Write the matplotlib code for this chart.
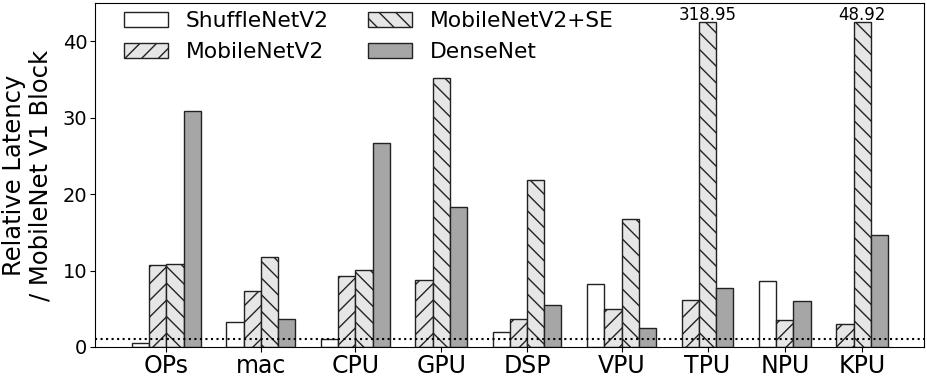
import numpy as np
import matplotlib
matplotlib.use('Agg')
import matplotlib.pyplot as plt

categories = ['OPs', 'mac', 'CPU', 'GPU', 'DSP', 'VPU', 'TPU', 'NPU', 'KPU']
series_names = ['ShuffleNetV2', 'MobileNetV2', 'MobileNetV2+SE', 'DenseNet']
# None = no bar for that unit
shufflenet = [0.5, 3.3, 1.1, None, 2.0, 8.2, None, 8.6, None]
mobilenetv2 = [10.7, 7.3, 9.3, 8.7, 3.6, 5.0, 6.2, 3.5, 3.0]
mobilenetv2_se = [10.8, 11.8, 10.1, 35.2, 21.8, 16.8, 318.95, None, 48.92]
densenet = [30.9, 3.6, 26.7, 18.3, 5.5, 2.5, 7.7, 6.0, 14.7]

CAP = 42.5
YMAX = 45

series = [shufflenet, mobilenetv2, mobilenetv2_se, densenet]
colors = ['white', '#e6e6e6', '#e6e6e6', '#a6a6a6']
hatches = ['', '//', '\\\\', '']

fig, ax = plt.subplots(figsize=(9.28, 3.77), dpi=100)
fig.subplots_adjust(left=0.1024, right=0.9957, top=0.992, bottom=0.0796)

w = 1.0
gap = 1.5
start = 0.0
centers = []
drawn = set()
for i in range(len(categories)):
    present = [k for k in range(len(series)) if series[k][i] is not None]
    for j, k in enumerate(present):
        v = series[k][i]
        h = min(v, CAP)
        lbl = series_names[k] if k not in drawn else None
        drawn.add(k)
        ax.bar(start + j * w, h, width=w, align='edge', color=colors[k],
               hatch=hatches[k], edgecolor='#222222', linewidth=1.0, label=lbl)
        if v > CAP:
            ax.text(start + j * w + w / 2, CAP - 0.3, '%.2f' % v, ha='center',
                    va='bottom', fontsize=12)
    centers.append(start + len(present) * w / 2)
    start += len(present) * w + gap

ax.axhline(1, color='black', linestyle=':', linewidth=1.5)

ax.set_xticks(centers)
ax.set_xticklabels(categories, fontsize=17)
ax.tick_params(axis='x', pad=1.5)
ax.tick_params(axis='y', labelsize=14, pad=2)
ax.set_xlim(-2.15, start - gap + 2.1)
ax.set_ylim(0, YMAX)
ax.set_ylabel('Relative Latency\n/ MobileNet V1 Block', fontsize=17.5,
              linespacing=1.1, labelpad=7.5)

handles, labels = ax.get_legend_handles_labels()
order = [series_names.index(l) for l in labels]
handles = [h for _, h in sorted(zip(order, handles))]
ax.legend(handles, series_names, ncol=2, frameon=False, fontsize=15.7,
          loc='upper left', bbox_to_anchor=(0.025, 1.002), borderaxespad=0,
          labelspacing=0.52, columnspacing=1.83)

plt.savefig('out.png', dpi=100)
